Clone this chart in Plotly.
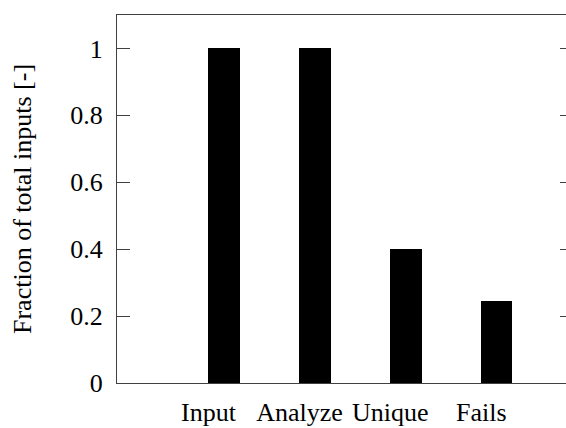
import plotly.graph_objects as go

categories = ["Input", "Analyze", "Unique", "Fails"]
fractions = [1.0, 1.0, 0.402, 0.245]
y_ticks = [0, 0.2, 0.4, 0.6, 0.8, 1]
y_tick_labels = ["0", "0.2", "0.4", "0.6", "0.8", "1"]

idx = list(range(len(categories)))
label_shift = 0.17

FONT = "Liberation Serif"
AX = "#404040"

fig = go.Figure()
fig.add_trace(go.Bar(x=idx, y=fractions, width=0.346,
                     marker=dict(color="black", line=dict(width=0)),
                     showlegend=False, hoverinfo="skip"))
# invisible trace carrying the right-hand tick marks
fig.add_trace(go.Scatter(x=[None], y=[None], yaxis="y2", showlegend=False))

fig.update_layout(
    template="none",
    width=566, height=428,
    margin=dict(l=117, r=0, t=15, b=45, pad=0),
    paper_bgcolor="white", plot_bgcolor="white",
    font=dict(family=FONT, size=26, color="black"),
    bargap=0,
    xaxis=dict(range=[-1.177, 3.762], tickvals=[i - label_shift for i in idx],
               ticktext=categories, ticks="", showgrid=False, zeroline=False,
               showline=True, linecolor=AX, linewidth=1.3, mirror=True,
               automargin=False, ticklabelstandoff=6,
               tickfont=dict(family=FONT, size=26)),
    yaxis=dict(range=[0, 1.1], tickvals=y_ticks, ticktext=y_tick_labels,
               ticks="inside", ticklen=13, tickcolor=AX, tickwidth=1.3,
               showgrid=False, zeroline=False, automargin=False,
               showline=True, linecolor=AX, linewidth=1.3, mirror=False,
               ticklabelstandoff=8, tickfont=dict(family=FONT, size=26),
               title=dict(text="Fraction of total inputs [-]",
                          font=dict(family=FONT, size=26), standoff=31)),
    yaxis2=dict(range=[0, 1.1], overlaying="y", side="right",
                tickvals=y_ticks, showticklabels=False, automargin=False,
                ticks="inside", ticklen=6, tickcolor=AX, tickwidth=1.3,
                showgrid=False, zeroline=False, showline=False),
)

fig.write_html(
    "out.html",
    config={"displayModeBar": False},
    post_script="document.body.style.margin='0';document.body.style.overflow='hidden';",
)
